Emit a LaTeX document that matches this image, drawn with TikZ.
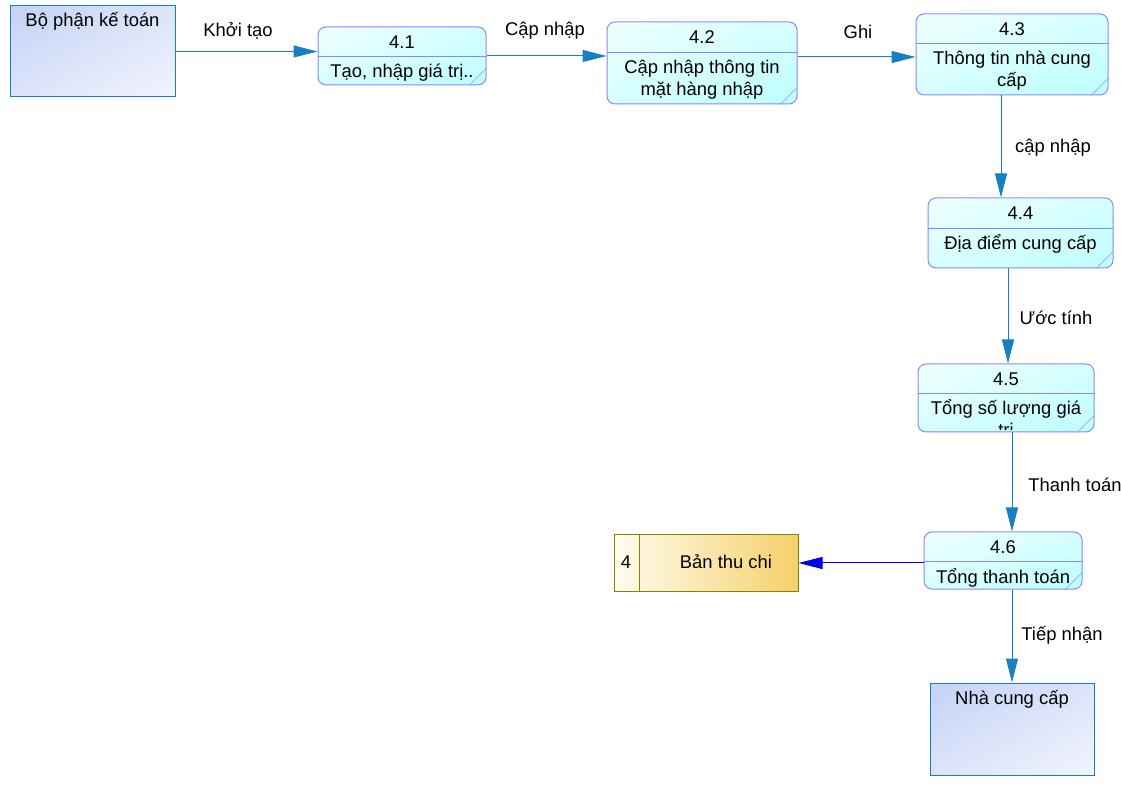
\documentclass[tikz,border=0pt]{standalone}
\usepackage{fontspec}
\setmainfont{Liberation Sans}
\usetikzlibrary{fit,arrows.meta,shadings}
\definecolor{flow blue}{RGB}{24,128,194}
\definecolor{store blue}{RGB}{0,0,230}
\definecolor{proc edge}{RGB}{136,136,255}
\definecolor{store edge}{RGB}{136,128,0}
\definecolor{entity top}{RGB}{196,210,245}
\definecolor{entity mid}{RGB}{220,228,250}
\definecolor{entity bottom}{RGB}{242,244,254}
\definecolor{store left}{RGB}{255,252,240}
\definecolor{store right}{RGB}{245,208,106}
\tikzstyle{lbl} = [font=\fontsize{13.8}{16.5}\selectfont, inner sep=0pt, anchor=base]
\tikzset{entity/.style={draw=flow blue, line width=0.75pt, inner sep=0pt,
        upper left=entity top, lower right=entity bottom,
        upper right=entity mid, lower left=entity mid},
    proc/.style={draw=proc edge, line width=0.75pt, rounded corners=6pt, inner sep=0pt,
        upper left=cyan!6, lower right=cyan!26, upper right=cyan!16, lower left=cyan!16},
    store/.style={draw=store edge, line width=0.75pt, inner sep=0pt,
        left color=store left, right color=store right},
    flow/.style={draw=flow blue, line width=0.75pt, -{Triangle[length=18pt,width=9pt]}}}
% process box: name, x1, y1, x2, y2, divider, number, text
\newcommand{\procbox}[8]{%
    \node[proc, fit={(#2,#3) (#4,#5)}] (#1) {};
    \draw[proc edge, line width=0.75pt] (#1.west |- 0,#6) -- (#1.east |- 0,#6);
    \draw[proc edge!80, line width=0.6pt] ([xshift=-13pt]#1.south east) -- ([yshift=13pt]#1.south east);
    \node[lbl] (#1num) at ({(#2+#4)/2},{(#3+#6)/2+6.5}) {#7};
    \begin{scope}
        \clip[rounded corners=6pt] (#2,#3) rectangle (#4,#5-2);
        \node[lbl] (#1txt) at ({(#2+#4)/2},#6+21) {\begin{tabular}[t]{@{}c@{}}#8\end{tabular}};
    \end{scope}
}

\begin{document}
\begin{tikzpicture}[x=0.75pt, y=-0.75pt]
    \useasboundingbox (0,0) rectangle (1121,787);
    % External entities
    \node[entity, fit={(10,6) (175,97)}] (ketoan) {};
    \node[lbl] (ketoantxt) at (92.5,27) {Bộ phận kế toán};
    \node[entity, fit={(930,683) (1094,775)}] (ncc) {};
    \node[lbl] (ncctxt) at (1012,704) {Nhà cung cấp};
    % Processes
    \procbox{p41}{318}{27}{486}{85}{57}{4.1}{Tạo, nhập giá trị..}
    \procbox{p42}{607}{22}{797}{104}{53}{4.2}{Cập nhập thông tin\\mặt hàng nhập}
    \procbox{p43}{916}{14}{1108}{95}{44}{4.3}{Thông tin nhà cung\\cấp}
    \procbox{p44}{928}{198}{1113}{268}{229}{4.4}{Địa điểm cung cấp}
    \procbox{p45}{918}{364}{1094}{432}{394}{4.5}{Tổng số lượng giá\\trị}
    \procbox{p46}{924}{532}{1082}{589}{562}{4.6}{Tổng thanh toán}
    % Data store
    \node[store, fit={(614,535) (798,591)}] (thuchi) {};
    \draw[store edge, line width=0.75pt] (thuchi.north -| 639,0) -- (thuchi.south -| 639,0);
    \node[lbl] (thuchinum) at (626,569) {4};
    \node[lbl] (thuchitxt) at (726,569) {Bản thu chi};
    % Flows
    \draw[flow] (ketoan.east) -- (ketoan.east -| p41.west);
    \draw[flow] (p41.east) -- (p41.east -| p42.west);
    \draw[flow] (p42.east |- 0,57) -- (p43.west |- 0,57);
    \draw[flow] (p43.south -| 1001,0) -- (p44.north -| 1001,0);
    \draw[flow] (p44.south -| 1008,0) -- (p45.north -| 1008,0);
    \draw[flow] (p45.south -| 1012,0) -- (p46.north -| 1012,0);
    \draw[flow, draw=store blue, fill=store blue] (p46.west |- thuchi.east) -- (thuchi.east);
    \draw[flow] (p46.south -| ncc.north) -- (ncc.north);
    % Flow labels
    \node[lbl] (lkhoitao) at (238,37) {Khởi tạo};
    \node[lbl] (lcapnhap) at (545,35.5) {Cập nhập};
    \node[lbl] (lghi) at (858,39) {Ghi};
    \node[lbl] (lcapnhapb) at (1053,152.5) {cập nhập};
    \node[lbl] (luoctinh) at (1056,324.5) {Ước tính};
    \node[lbl] (lthanhtoan) at (1075,491.5) {Thanh toán};
    \node[lbl] (ltiepnhan) at (1062,640.5) {Tiếp nhận};
\end{tikzpicture}
\end{document}
